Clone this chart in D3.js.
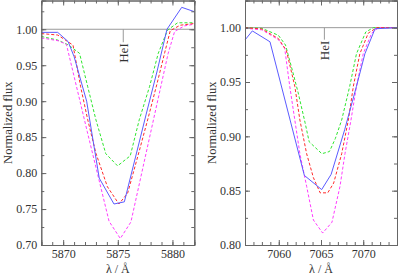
<!DOCTYPE html>
<html>
<head>
    <meta charset="UTF-8" />
    <title>HeI profiles</title>
    <style>
        body {
            margin: 0;
            padding: 0;
            background: white;
        }

        svg text {
            font-family: "Liberation Serif", "Times New Roman", "DejaVu Serif", serif;
            fill: #333;
        }
    </style>
</head>
<body>
    <svg id="chart" width="399" height="274"></svg>

    <script src="https://cdnjs.cloudflare.com/ajax/libs/d3/7.8.5/d3.min.js"></script>
    <script>
        // left panel: HeI 5876
        const leftXDomain = [5868, 5882]
        const leftYDomain = [0.70, 1.04]
        const leftXMajor = [5870, 5875, 5880]
        const leftYMajor = [0.70, 0.75, 0.80, 0.85, 0.90, 0.95, 1.00]
        const leftLine = 5875.5

        const leftBlueLam = [5868.0, 5869.5, 5870.45, 5871.0, 5872.15, 5873.3, 5874.65, 5875.6, 5876.6, 5877.6, 5878.6, 5879.5, 5880.85, 5882.0]
        const leftBlueFlux = [0.9957, 0.9957, 0.983, 0.962, 0.900, 0.793, 0.757, 0.760, 0.821, 0.882, 0.942, 1.000, 1.0305, 1.0245]
        const leftRedLam = [5868.0, 5869.5, 5870.9, 5871.6, 5872.25, 5873.0, 5874.05, 5875.1, 5875.9, 5876.95, 5877.8, 5878.6, 5879.3, 5879.8, 5880.7, 5882.0]
        const leftRedFlux = [0.994, 0.992, 0.978, 0.920, 0.874, 0.8275, 0.781, 0.757, 0.772, 0.830, 0.878, 0.925, 0.968, 0.998, 1.0056, 1.008]
        const leftGreenLam = [5868.0, 5869.5, 5870.5, 5871.5, 5872.25, 5873.0, 5873.9, 5874.98, 5876.14, 5876.96, 5877.9, 5878.7, 5879.56, 5880.47, 5882.0]
        const leftGreenFlux = [0.990, 0.985, 0.978, 0.9665, 0.920, 0.874, 0.827, 0.810, 0.824, 0.874, 0.920, 0.9665, 0.999, 1.009, 1.009]
        const leftMagentaLam = [5868.0, 5869.55, 5870.3, 5872.2, 5874.2, 5875.23, 5876.2, 5878.0, 5879.6, 5880.2, 5881.1, 5882.0]
        const leftMagentaFlux = [0.988, 0.984, 0.979, 0.858, 0.733, 0.709, 0.732, 0.856, 0.966, 0.997, 1.0047, 1.007]

        // right panel: HeI 7065
        const rightXDomain = [7056, 7074]
        const rightYDomain = [0.80, 1.025]
        const rightXMajor = [7060, 7065, 7070]
        const rightYMajor = [0.80, 0.85, 0.90, 0.95, 1.00]
        const rightLine = 7065.4

        const rightBlueLam = [7056.0, 7056.87, 7058.96, 7063.03, 7065.08, 7066.2, 7067.8, 7069.2, 7070.2, 7071.4, 7074.0]
        const rightBlueFlux = [0.9887, 0.997, 0.987, 0.864, 0.851, 0.865, 0.906, 0.946, 0.976, 0.999, 1.000]
        const rightRedLam = [7056.0, 7058.0, 7059.95, 7060.9, 7061.9, 7062.5, 7063.3, 7064.1, 7064.9, 7065.8, 7066.5, 7067.45, 7068.24, 7068.83, 7069.6, 7070.6, 7071.6, 7074.0]
        const rightRedFlux = [1.0, 0.9988, 0.990, 0.979, 0.946, 0.915, 0.884, 0.862, 0.848, 0.848, 0.857, 0.884, 0.915, 0.946, 0.976, 0.995, 1.0, 1.0]
        const rightGreenLam = [7056.0, 7058.0, 7059.95, 7060.8, 7061.6, 7062.3, 7063.1, 7063.6, 7065.1, 7066.0, 7066.7, 7067.45, 7068.4, 7069.2, 7070.3, 7071.2, 7074.0]
        const rightGreenFlux = [1.0, 0.9994, 0.993, 0.984, 0.961, 0.940, 0.913, 0.895, 0.884, 0.886, 0.898, 0.915, 0.946, 0.976, 0.996, 1.0, 1.0]
        const rightMagentaLam = [7056.0, 7058.0, 7059.95, 7060.7, 7061.3, 7061.9, 7062.5, 7063.3, 7064.1, 7065.2, 7066.3, 7067.25, 7067.84, 7068.55, 7069.2, 7070.0, 7071.0, 7071.8, 7074.0]
        const rightMagentaFlux = [0.9995, 0.998, 0.989, 0.981, 0.946, 0.915, 0.884, 0.854, 0.823, 0.811, 0.821, 0.854, 0.884, 0.915, 0.946, 0.976, 0.995, 1.0, 1.0]

        const styles = {
            blue: { color: '#5b5bff', dash: null },
            red: { color: '#ff2a2a', dash: '3,2' },
            green: { color: '#2fe62f', dash: '3,2' },
            magenta: { color: '#ff3cff', dash: '3,2' }
        }

        const serif = '"Liberation Serif", "Times New Roman", "DejaVu Serif", serif'
        const svg = d3.select('#chart')

        function zip(lam, flux) {
            return lam.map((l, i) => [l, flux[i]])
        }

        function drawPanel(opt) {
            const x = d3.scaleLinear().domain(opt.xDomain).range([opt.left, opt.right])
            const y = d3.scaleLinear().domain(opt.yDomain).range([opt.bottom, opt.top])
            const g = svg.append('g')

            const xMinor = d3.range(opt.xDomain[0], opt.xDomain[1] + 0.001, 1)
            const yMinor = d3.range(opt.yDomain[0], opt.yDomain[1] + 0.0001, 0.025)

            // reference lines
            g.append('line')
                .attr('x1', opt.left).attr('x2', opt.right)
                .attr('y1', y(1)).attr('y2', y(1))
                .attr('stroke', '#999').attr('stroke-width', 1)

            g.append('line')
                .attr('x1', x(opt.line)).attr('x2', x(opt.line))
                .attr('y1', y(1)).attr('y2', y(1) + opt.markLen)
                .attr('stroke', '#999').attr('stroke-width', 1)

            g.append('text')
                .attr('transform', `translate(${x(opt.line) + 4.5},${y(1) + opt.markLen + 1}) rotate(-90)`)
                .attr('text-anchor', 'end')
                .attr('font-family', serif)
                .attr('font-size', 13)
                .text('HeI')

            // curves
            const line = d3.line().x(d => x(d[0])).y(d => y(d[1]))
            opt.series.forEach(s => {
                g.append('path')
                    .attr('d', line(zip(s.lam, s.flux)))
                    .attr('fill', 'none')
                    .attr('stroke', styles[s.key].color)
                    .attr('stroke-width', 1)
                    .attr('stroke-dasharray', styles[s.key].dash)
            })

            // axes, ticks inward on all sides
            const axes = [
                [d3.axisBottom(x).tickValues(opt.xMajor).tickFormat(d3.format('d')), `translate(0,${opt.bottom})`, true],
                [d3.axisBottom(x).tickValues(xMinor).tickFormat(''), `translate(0,${opt.bottom})`, false],
                [d3.axisTop(x).tickValues(opt.xMajor).tickFormat(''), `translate(0,${opt.top})`, true],
                [d3.axisTop(x).tickValues(xMinor).tickFormat(''), `translate(0,${opt.top})`, false],
                [d3.axisLeft(y).tickValues(opt.yMajor).tickFormat(d3.format('.2f')), `translate(${opt.left},0)`, true],
                [d3.axisLeft(y).tickValues(yMinor).tickFormat(''), `translate(${opt.left},0)`, false],
                [d3.axisRight(y).tickValues(opt.yMajor).tickFormat(''), `translate(${opt.right},0)`, true],
                [d3.axisRight(y).tickValues(yMinor).tickFormat(''), `translate(${opt.right},0)`, false]
            ]
            axes.forEach(([ax, tr, major]) => {
                const a = g.append('g')
                    .attr('transform', tr)
                    .call(ax.tickSize(major ? -5 : -3).tickPadding(major ? 4 : 0))
                a.attr('font-family', serif).attr('font-size', 12)
                a.select('.domain').attr('stroke', '#666')
                a.selectAll('.tick line').attr('stroke', '#666')
                a.selectAll('.tick text').attr('fill', '#333')
            })

            // axis titles
            g.append('text')
                .attr('x', (opt.left + opt.right) / 2)
                .attr('y', 272.5)
                .attr('text-anchor', 'middle')
                .attr('font-family', serif)
                .attr('font-size', 12)
                .text('λ / Å')

            g.append('text')
                .attr('transform', `translate(${opt.left - 29},${(opt.top + opt.bottom) / 2}) rotate(-90)`)
                .attr('text-anchor', 'middle')
                .attr('font-family', serif)
                .attr('font-size', 12.5)
                .text('Normalized flux')
        }

        drawPanel({
            left: 41.3, right: 194.3, top: 0.5, bottom: 245,
            xDomain: leftXDomain, yDomain: leftYDomain,
            xMajor: leftXMajor, yMajor: leftYMajor,
            line: leftLine, markLen: 13,
            series: [
                { key: 'green', lam: leftGreenLam, flux: leftGreenFlux },
                { key: 'magenta', lam: leftMagentaLam, flux: leftMagentaFlux },
                { key: 'red', lam: leftRedLam, flux: leftRedFlux },
                { key: 'blue', lam: leftBlueLam, flux: leftBlueFlux }
            ]
        })

        drawPanel({
            left: 245, right: 397, top: 0.5, bottom: 245,
            xDomain: rightXDomain, yDomain: rightYDomain,
            xMajor: rightXMajor, yMajor: rightYMajor,
            line: rightLine, markLen: 12,
            series: [
                { key: 'green', lam: rightGreenLam, flux: rightGreenFlux },
                { key: 'magenta', lam: rightMagentaLam, flux: rightMagentaFlux },
                { key: 'red', lam: rightRedLam, flux: rightRedFlux },
                { key: 'blue', lam: rightBlueLam, flux: rightBlueFlux }
            ]
        })
    </script>
</body>
</html>
